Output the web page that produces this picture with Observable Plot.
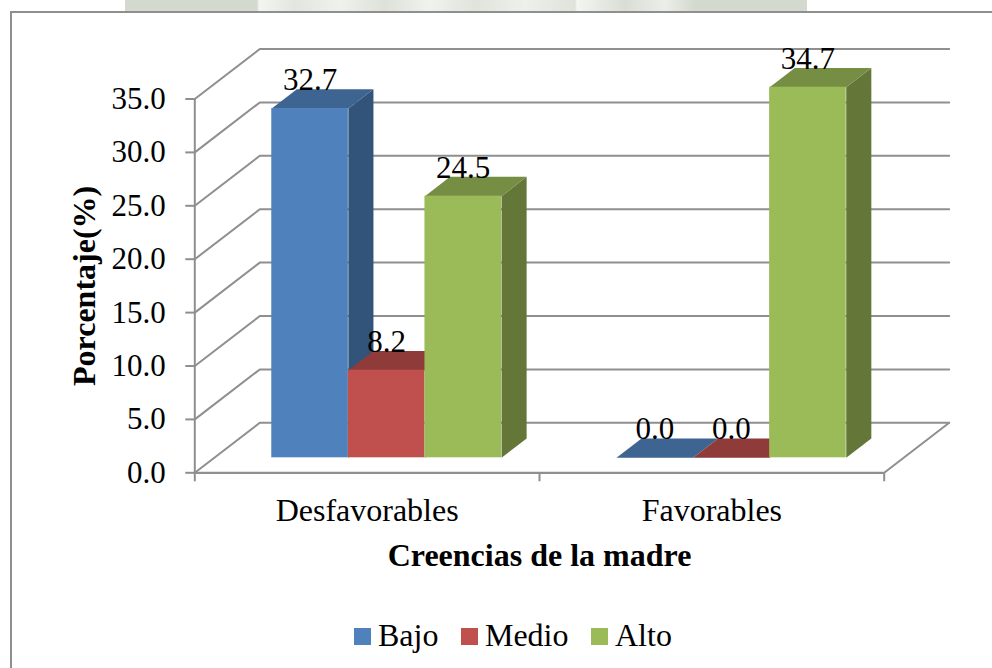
<!DOCTYPE html>
<html>
<head>
<meta charset="utf-8">
<script src="https://cdn.jsdelivr.net/npm/d3@7"></script>
<script src="https://cdn.jsdelivr.net/npm/@observablehq/plot@0.6"></script>
<style>
html, body { margin: 0; padding: 0; background: #fff; }
body { width: 992px; height: 668px; position: relative; overflow: hidden; font-family: "Liberation Serif", serif; }
#watermark { position: absolute; left: 125px; top: 0; width: 682px; height: 11px;
  background: linear-gradient(90deg, #d3d9cf 0, #d3d9cf 132px, #f4f5f2 134px, #e2e6df 170px, #eff1ed 215px, #dde2d9 260px, #f0f2ee 305px, #e0e4dc 350px, #eef0eb 400px, #dfe3db 450px, #f4f5f2 452px, #d9ded5 500px, #eceee9 540px, #d3d9cf 570px, #d3d9cf 100%); }
#frame { position: absolute; left: 10px; top: 11px; right: -4px; bottom: -4px; border: 2px solid #8f8f8f; background: #fff; }
#chart { position: absolute; left: 0; top: 0; }
#legend { position: absolute; left: 354px; top: 617px; display: flex; align-items: center; font-size: 32px; line-height: 36px; color: #000; }
#legend .sw { width: 17px; height: 17px; margin-right: 7px; margin-top: 2px; }
#legend .it { display: flex; align-items: center; margin-right: 22.5px; }
</style>
</head>
<body>
<div id="watermark"></div>
<div id="frame"></div>
<div id="chart"></div>
<div id="legend"></div>
<script>
const categories = ["Desfavorables", "Favorables"];
const levels = ["Bajo", "Medio", "Alto"];
const bajo = [32.7, 0.0];
const medio = [8.2, 0.0];
const alto = [24.5, 34.7];
const yTicks = [0, 5, 10, 15, 20, 25, 30, 35];
const frontColors = ["#4f81bd", "#c0504d", "#9bbb59"];
const topColors = ["#3e6592", "#8e3b39", "#768d44"];
const sideColors = ["#32537a", "#7f3432", "#647738"];

const xTitle = "Creencias de la madre";
const yTitle = "Porcentaje(%)";

// 3D box layout, in scale units
const depthX = 0.1886, depthY = 4.68;
const barZ0 = 0.3, barZ1 = 0.686, barW = 0.2222;
const gridColor = "#8f8f8f";
const fs = 31, fsTitle = 32;

const series = [bajo, medio, alto];
const bars = [];
categories.forEach((cat, i) => {
  series.forEach((vals, s) => {
    const x0 = i + 0.5 + barZ0 * depthX + (s - 1.5) * barW;
    bars.push({cat, level: levels[s], s, value: vals[i], x0, x1: x0 + barW});
  });
});

const polys = [];
bars.forEach((b, k) => {
  const y0 = barZ0 * depthY, dx = (barZ1 - barZ0) * depthX, dy = (barZ1 - barZ0) * depthY;
  const top = b.value + y0;
  const side = [[b.x1, y0], [b.x1 + dx, y0 + dy], [b.x1 + dx, top + dy], [b.x1, top]];
  const roof = [[b.x0, top], [b.x0 + dx, top + dy], [b.x1 + dx, top + dy], [b.x1, top]];
  if (b.value > 0) side.forEach(([x, y]) => polys.push({id: "s" + k, x, y, tone: sideColors[b.s]}));
  roof.forEach(([x, y]) => polys.push({id: "t" + k, x, y, tone: topColors[b.s]}));
});

const grid = [];
yTicks.forEach(v => {
  [[0, v], [depthX, v + depthY], [2 + depthX, v + depthY]].forEach(([x, y]) => grid.push({v, x, y}));
});
const floorEdge = [{x: 2 + depthX, y: depthY}, {x: 2, y: 0}];

const chart = Plot.plot({
  width: 992, height: 668,
  marginLeft: 194.3, marginRight: 108.3, marginTop: 98.5, marginBottom: 195.7,
  style: {fontFamily: '"Liberation Serif", serif', fontSize: fs + "px", color: "#000", background: "transparent", overflow: "visible"},
  x: {domain: [0, 2]},
  y: {domain: [0, 35]},
  color: {type: "identity"},
  marks: [
    Plot.line(grid, {x: "x", y: "y", z: "v", stroke: gridColor, strokeWidth: 2}),
    Plot.line(floorEdge, {x: "x", y: "y", stroke: gridColor, strokeWidth: 2}),
    Plot.ruleY([0], {stroke: gridColor, strokeWidth: 2.2}),
    Plot.ruleX([0], {stroke: gridColor, strokeWidth: 2}),
    Plot.axisY({ticks: yTicks, tickFormat: d3.format(".1f"), tickSize: 9, tickPadding: 20, fontSize: fs, stroke: gridColor, strokeWidth: 2, label: null}),
    Plot.axisX({ticks: [0, 1, 2], tickFormat: () => "", tickSize: 9, stroke: gridColor, strokeWidth: 2, label: null}),
    Plot.axisX({ticks: [0.5, 1.5], tickFormat: d => categories[d - 0.5], tickSize: 0, tickPadding: 25, fontSize: fsTitle, label: null}),
    Plot.line(polys, {x: "x", y: "y", z: "id", fill: "tone", stroke: "none"}),
    Plot.rect(bars, {x1: "x0", x2: "x1", y1: () => barZ0 * depthY, y2: d => d.value + barZ0 * depthY, fill: d => frontColors[d.s], stroke: "none"}),
    Plot.text(bars, {x: d => (d.x0 + d.x1) / 2, y: d => d.value + barZ0 * depthY, text: d => d.value.toFixed(1), dy: -18.5, lineAnchor: "bottom", fontSize: fs, fill: "#000"}),
    Plot.text([yTitle], {frameAnchor: "left", textAnchor: "middle", rotate: -90, dx: -110, fontWeight: "bold", fontSize: fsTitle, fill: "#000"}),
    Plot.text([xTitle], {x: [1], frameAnchor: "bottom", dy: 93, lineAnchor: "bottom", fontWeight: "bold", fontSize: fsTitle, fill: "#000"})
  ]
});
document.getElementById("chart").appendChild(chart);

const legend = document.getElementById("legend");
levels.forEach((name, i) => {
  const it = document.createElement("div"); it.className = "it";
  const sw = document.createElement("div"); sw.className = "sw"; sw.style.background = frontColors[i];
  const tx = document.createElement("span"); tx.textContent = name;
  it.append(sw, tx); legend.append(it);
});
</script>
</body>
</html>
